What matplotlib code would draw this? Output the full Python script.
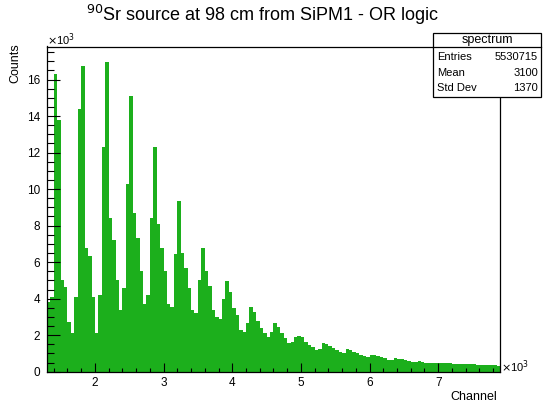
import matplotlib
matplotlib.use('Agg')
import matplotlib.pyplot as plt
from matplotlib.ticker import MultipleLocator, FuncFormatter
from matplotlib.patches import Rectangle
import numpy as np

plt.rcParams['font.family'] = ['Liberation Sans', 'DejaVu Sans']

# histogram binning: 50-channel bins starting at channel 1300
ch_lo = 1300
bin_w = 50

# counts per bin (thousands), read row by row, one row per peak period
counts_k = [
    3.8, 4.1,
    16.3, 13.8, 5.0, 4.64, 2.73, 2.1, 4.1,
    14.4, 16.76, 6.8, 6.36, 4.1, 2.1, 4.2,
    12.3, 16.96, 8.4, 7.2, 5.0, 3.36, 4.6,
    10.3, 15.1, 8.7, 7.3, 5.5, 3.7, 4.2,
    8.4, 12.3, 8.1, 6.8, 5.5, 3.7, 3.55,
    6.45, 9.36, 6.5, 5.7, 4.6, 3.36, 3.2,
    5.0, 6.8, 5.5, 4.7, 3.36, 3.0, 2.9,
    4.0, 4.96, 4.36, 3.5, 3.1, 2.27, 2.2,
    2.65, 3.55, 3.27, 2.8, 2.4, 2.1, 1.9,
    2.18, 2.67, 2.45, 2.1, 1.83, 1.55, 1.6,
    1.9, 1.95, 1.9, 1.64, 1.45, 1.35, 1.2,
    1.25, 1.55, 1.5, 1.42, 1.3, 1.18, 1.08,
    1.0, 1.22, 1.2, 1.1, 1.0, 0.92, 0.85,
    0.8, 0.92, 0.9, 0.85, 0.8, 0.73, 0.66,
    0.62, 0.73, 0.7, 0.67, 0.62, 0.58, 0.55,
    0.52, 0.56, 0.53, 0.5, 0.48, 0.46, 0.45,
    0.48, 0.5, 0.47, 0.45, 0.43, 0.42, 0.41,
    0.4, 0.44, 0.42, 0.4, 0.38, 0.36, 0.35,
    0.34, 0.36, 0.34, 0.33,
]
counts = np.array(counts_k) * 1000
edges = ch_lo + bin_w * np.arange(len(counts) + 1)

stats_name = 'spectrum'
stats_rows = [('Entries', '5530715'), ('Mean', '3100'), ('Std Dev', '1370')]

green = '#1caf1c'
W, H = 544, 407

fig = plt.figure(figsize=(W / 100, H / 100), dpi=100)
ax = fig.add_axes([47.3 / W, 1 - 371.7 / H, (500 - 47.3) / W, (371.7 - 46.5) / H])

ax.stairs(counts, edges, fill=True, color=green, linewidth=0)
ax.set_xlim(1306, 7900)
ax.set_ylim(0, 1.05 * counts.max())

for s in ax.spines.values():
    s.set_linewidth(0.9)

ax.xaxis.set_major_locator(MultipleLocator(1000))
ax.xaxis.set_minor_locator(MultipleLocator(200))
ax.yaxis.set_major_locator(MultipleLocator(2000))
ax.yaxis.set_minor_locator(MultipleLocator(500))
fmt = FuncFormatter(lambda v, p: f'{v / 1000:g}')
ax.xaxis.set_major_formatter(fmt)
ax.yaxis.set_major_formatter(fmt)
ax.tick_params(axis='x', which='major', direction='in', length=6.5, width=0.8, labelsize=8.5, pad=4)
ax.tick_params(axis='x', which='minor', direction='in', length=3.2, width=0.8)
ax.tick_params(axis='y', which='major', direction='in', length=9.5, width=0.8, labelsize=8.5, pad=5)
ax.tick_params(axis='y', which='minor', direction='in', length=4.8, width=0.8)

# axis titles and exponent labels, placed like ROOT does
fig.text(497 / W, 1 - 397 / H, 'Channel', ha='right', va='center', fontsize=9)
fig.text(15 / W, 1 - 43 / H, 'Counts', ha='center', va='top', rotation=90, fontsize=9)
fig.text(47 / W, 1 - 40 / H, r'$\times$10$^3$', ha='left', va='center', fontsize=8)
fig.text(501 / W, 1 - 367 / H, r'$\times$10$^3$', ha='left', va='center', fontsize=8)

fig.text(263 / W, 1 - 15 / H, r'$^{90}$Sr source at 98 cm from SiPM1 - OR logic',
         ha='center', va='center', fontsize=13)

# statistics box
bx0, bx1, by0, by1 = 433, 541, 33, 97
fig.patches.append(Rectangle((bx0 / W, 1 - by1 / H), (bx1 - bx0) / W, (by1 - by0) / H,
                             transform=fig.transFigure, facecolor='white',
                             edgecolor='black', linewidth=0.9, zorder=5))
fig.add_artist(plt.Line2D([bx0 / W, bx1 / W], [1 - 46.5 / H, 1 - 46.5 / H],
                          transform=fig.transFigure, color='black', linewidth=0.9, zorder=6))
fig.text((bx0 + bx1) / 2 / W, 1 - 40 / H, stats_name, ha='center', va='center', fontsize=9, zorder=7)
for i, (name, val) in enumerate(stats_rows):
    yy = 1 - (57 + 15.7 * i) / H
    fig.text((bx0 + 4) / W, yy, name, ha='left', va='center', fontsize=8, zorder=7)
    fig.text((bx1 - 3) / W, yy, val, ha='right', va='center', fontsize=8, zorder=7)

fig.savefig('out.png', dpi=100)
